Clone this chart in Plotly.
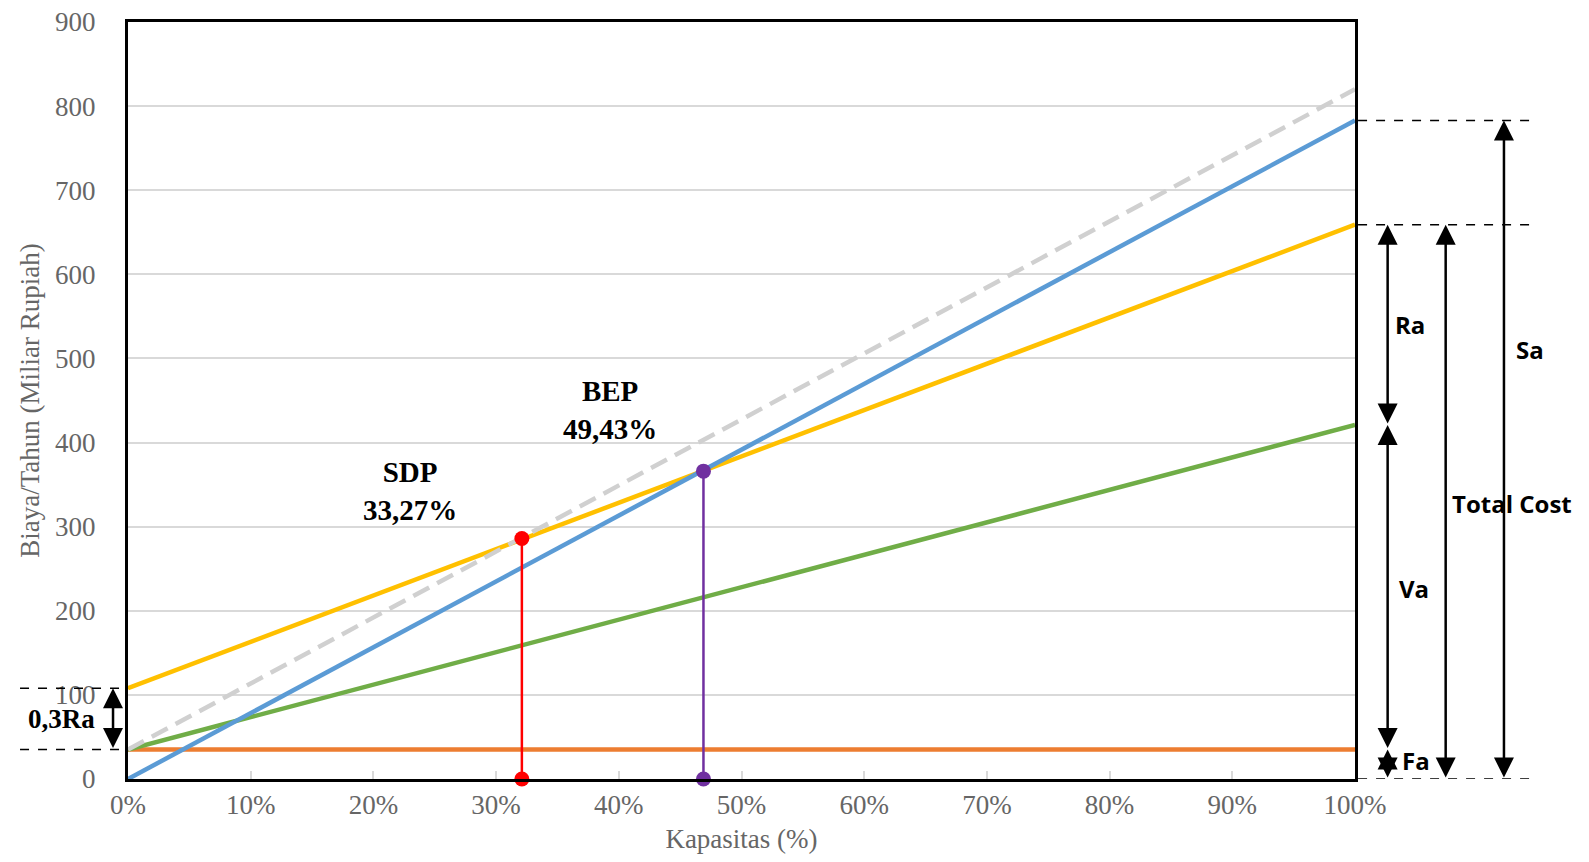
import plotly.graph_objects as go

# ---- data ----
capacity = [0.0, 1.0]                 # 0% .. 100%
sales = [0, 783]                      # blue (Sa)
total_cost = [108, 659]               # yellow (Total cost)
semi_var = [35, 421]                  # green (Fa + Va)
fixed_cost = [35, 35]                 # orange (Fa)
ref_line = [35, 820]                  # gray dashed

sdp_x, sdp_y = 0.321, 286             # shutdown point
bep_x, bep_y = 0.469, 366             # break-even point
sdp_label = "SDP<br>33,27%"
bep_label = "BEP<br>49,43%"

x_ticks = [i / 10 for i in range(11)]
y_ticks = list(range(0, 901, 100))

SERIF = "Liberation Serif, Times New Roman, serif"
SANS = "Open Sans, Noto Sans, sans-serif"

fig = go.Figure()

fig.add_trace(go.Scatter(x=capacity, y=fixed_cost, mode="lines",
                         line=dict(color="#ED7D31", width=4.5)))
fig.add_trace(go.Scatter(x=capacity, y=semi_var, mode="lines",
                         line=dict(color="#70AD47", width=4.5)))
fig.add_trace(go.Scatter(x=capacity, y=total_cost, mode="lines",
                         line=dict(color="#FFC000", width=4.5)))
fig.add_trace(go.Scatter(x=capacity, y=sales, mode="lines",
                         line=dict(color="#5B9BD5", width=4.5)))
fig.add_trace(go.Scatter(x=capacity, y=ref_line, mode="lines",
                         line=dict(color="#D0D0D0", width=4.5, dash="18px,9px")))

fig.add_trace(go.Scatter(x=[sdp_x, sdp_x], y=[0, sdp_y], mode="lines+markers",
                         line=dict(color="#FF0000", width=2.5),
                         marker=dict(color="#FF0000", size=15),
                         cliponaxis=False))
fig.add_trace(go.Scatter(x=[bep_x, bep_x], y=[0, bep_y], mode="lines+markers",
                         line=dict(color="#7030A0", width=2.5),
                         marker=dict(color="#7030A0", size=15),
                         cliponaxis=False))

annotations = []
# point labels
annotations.append(dict(x=0.23, y=343, xref="x", yref="y", text="<b>" + sdp_label + "</b>",
                        xanchor="center", yanchor="middle",
                        showarrow=False, font=dict(family=SERIF, size=29, color="black")))
annotations.append(dict(x=0.393, y=439, xref="x", yref="y", text="<b>" + bep_label + "</b>",
                        xanchor="center", yanchor="middle",
                        showarrow=False, font=dict(family=SERIF, size=29, color="black")))


def dbl_arrow(xp, y_top, y_bot):
    return dict(x=xp, y=y_top, xref="paper", yref="y", ax=0, ay=y_bot, axref="pixel", ayref="y",
                text="", showarrow=True, arrowhead=2, arrowsize=1.6, arrowwidth=2.5,
                arrowcolor="black", arrowside="end+start",
                standoff=0, startstandoff=0)


x_ra = 1.0266
x_tc = 1.0739
x_sa = 1.1214
annotations.append(dbl_arrow(x_ra, total_cost[-1], semi_var[-1]))
annotations.append(dbl_arrow(x_ra, semi_var[-1], fixed_cost[-1]))
annotations.append(dbl_arrow(x_ra, fixed_cost[-1], 0))
annotations.append(dbl_arrow(x_tc, total_cost[-1], 0))
annotations.append(dbl_arrow(x_sa, sales[-1], 0))
annotations.append(dbl_arrow(-0.0122, total_cost[0], fixed_cost[0]))

right_labels = [("Ra", 1.045, 540), ("Sa", 1.143, 511), ("Total Cost", 1.128, 327),
                ("Va", 1.048, 226), ("Fa", 1.050, 22)]
for txt, xp, yp in right_labels:
    annotations.append(dict(x=xp, y=yp, xref="paper", yref="y", text="<b>" + txt + "</b>",
                            xanchor="center", yanchor="middle",
                            showarrow=False, font=dict(family=SANS, size=24, color="black")))
annotations.append(dict(x=-0.0546, y=71, xref="paper", yref="y", text="<b>0,3Ra</b>",
                        xanchor="center", yanchor="middle",
                        showarrow=False, font=dict(family=SERIF, size=27, color="black")))

shapes = []
for yv in [sales[-1], total_cost[-1], 0]:
    shapes.append(dict(type="line", xref="paper", yref="y", x0=1.0025, x1=1.148, y0=yv, y1=yv,
                       line=dict(color="black", width=1.5, dash="dash")))
for yv in [total_cost[0], fixed_cost[0]]:
    shapes.append(dict(type="line", xref="paper", yref="y", x0=-0.088, x1=0, y0=yv, y1=yv,
                       line=dict(color="black", width=1.5, dash="dash")))

fig.update_layout(
    width=1573, height=846,
    margin=dict(l=120, r=226, t=14, b=74.5, autoexpand=False),
    paper_bgcolor="white", plot_bgcolor="white",
    showlegend=False,
    annotations=annotations, shapes=shapes,
    xaxis=dict(range=[0, 1], tickvals=x_ticks, tickformat=".0%", automargin=False,
               showgrid=False, zeroline=False, ticklabeloverflow="allow",
               showline=True, mirror=True, linecolor="black", linewidth=3,
               ticks="inside", ticklen=8, tickcolor="#D9D9D9", tickwidth=1.5,
               tickfont=dict(family=SERIF, size=27, color="#666666"),
               title=dict(text="Kapasitas (%)", font=dict(family=SERIF, size=27, color="#666666"),
                          standoff=14)),
    yaxis=dict(range=[0, 900], tickvals=y_ticks, automargin=False,
               showgrid=True, gridcolor="#D9D9D9", gridwidth=1.5, zeroline=False,
               ticklabeloverflow="allow",
               showline=True, mirror=True, linecolor="black", linewidth=3,
               ticks="", ticklabelstandoff=24,
               tickfont=dict(family=SERIF, size=27, color="#666666"),
               title=dict(text="Biaya/Tahun (Miliar Rupiah)",
                          font=dict(family=SERIF, size=27, color="#666666"), standoff=8)),
)

fig.write_html("out.html")
